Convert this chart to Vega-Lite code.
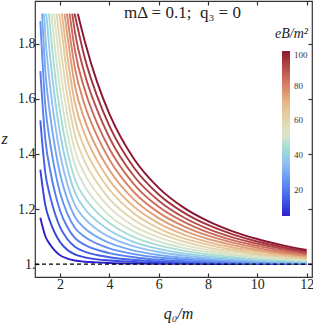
{
  "$schema": "https://vega.github.io/schema/vega-lite/v6.json",
  "width": 277,
  "height": 276,
  "autosize": "none",
  "padding": {"left": 35, "top": 1, "right": 1, "bottom": 46},
  "background": "white",
  "config": {
    "view": {"stroke": "#333", "strokeWidth": 1.2},
    "axis": {"grid": false, "domain": false, "tickColor": "#333", "tickSize": -4, "tickWidth": 1.2, "labelFont": "Liberation Serif", "labelFontSize": 14, "labelColor": "#222", "titleFont": "Liberation Serif", "titleFontSize": 16, "titleFontStyle": "italic", "titleFontWeight": "normal", "titleColor": "#222"}
  },
  "title": {"text": "mΔ = 0.1;\u2002q₃ = 0", "font": "Liberation Serif", "fontSize": 17, "fontWeight": "normal", "color": "#222", "anchor": "middle", "frame": "group", "dx": 9, "offset": -22},
  "datasets": {
    "curves": [
      {"eB":5,"q0":1.2,"z":1.168},{"eB":5,"q0":1.4,"z":1.102},{"eB":5,"q0":1.6,"z":1.07},{"eB":5,"q0":1.8,"z":1.048},{"eB":5,"q0":2.0,"z":1.032},{"eB":5,"q0":2.3,"z":1.02},{"eB":5,"q0":2.6,"z":1.013},{"eB":5,"q0":3.0,"z":1.0085},{"eB":5,"q0":3.5,"z":1.006},{"eB":5,"q0":4,"z":1.004},{"eB":5,"q0":5,"z":1.002},{"eB":5,"q0":6,"z":1.001},{"eB":5,"q0":8,"z":1.0005},{"eB":5,"q0":10,"z":1.0},{"eB":5,"q0":12,"z":1.0},
      {"eB":10,"q0":1.2,"z":1.343},{"eB":10,"q0":1.4,"z":1.215},{"eB":10,"q0":1.6,"z":1.154},{"eB":10,"q0":1.8,"z":1.111},{"eB":10,"q0":2.0,"z":1.08},{"eB":10,"q0":2.3,"z":1.051},{"eB":10,"q0":2.6,"z":1.035},{"eB":10,"q0":3.0,"z":1.0245},{"eB":10,"q0":3.5,"z":1.017},{"eB":10,"q0":4,"z":1.013},{"eB":10,"q0":5,"z":1.008},{"eB":10,"q0":6,"z":1.005},{"eB":10,"q0":7,"z":1.003},{"eB":10,"q0":8,"z":1.002},{"eB":10,"q0":10,"z":1.001},{"eB":10,"q0":12,"z":1.0005},
      {"eB":15,"q0":1.2,"z":1.522},{"eB":15,"q0":1.4,"z":1.333},{"eB":15,"q0":1.6,"z":1.245},{"eB":15,"q0":1.8,"z":1.182},{"eB":15,"q0":2.0,"z":1.134},{"eB":15,"q0":2.3,"z":1.09},{"eB":15,"q0":2.6,"z":1.063},{"eB":15,"q0":3.0,"z":1.045},{"eB":15,"q0":3.5,"z":1.033},{"eB":15,"q0":4,"z":1.025},{"eB":15,"q0":5,"z":1.015},{"eB":15,"q0":6,"z":1.01},{"eB":15,"q0":7,"z":1.007},{"eB":15,"q0":8,"z":1.005},{"eB":15,"q0":9,"z":1.003},{"eB":15,"q0":10,"z":1.002},{"eB":15,"q0":12,"z":1.001},
      {"eB":20,"q0":1.2,"z":1.701},{"eB":20,"q0":1.4,"z":1.455},{"eB":20,"q0":1.6,"z":1.34},{"eB":20,"q0":1.8,"z":1.257},{"eB":20,"q0":2.0,"z":1.194},{"eB":20,"q0":2.3,"z":1.134},{"eB":20,"q0":2.6,"z":1.095},{"eB":20,"q0":3.0,"z":1.07},{"eB":20,"q0":3.5,"z":1.052},{"eB":20,"q0":4,"z":1.04},{"eB":20,"q0":5,"z":1.025},{"eB":20,"q0":6,"z":1.016},{"eB":20,"q0":7,"z":1.011},{"eB":20,"q0":8,"z":1.008},{"eB":20,"q0":9,"z":1.006},{"eB":20,"q0":10,"z":1.004},{"eB":20,"q0":11,"z":1.003},{"eB":20,"q0":12,"z":1.002},
      {"eB":25,"q0":1.2,"z":1.883},{"eB":25,"q0":1.4,"z":1.579},{"eB":25,"q0":1.6,"z":1.439},{"eB":25,"q0":1.8,"z":1.337},{"eB":25,"q0":2.0,"z":1.259},{"eB":25,"q0":2.3,"z":1.182},{"eB":25,"q0":2.6,"z":1.132},{"eB":25,"q0":3.0,"z":1.099},{"eB":25,"q0":3.5,"z":1.074},{"eB":25,"q0":4,"z":1.057},{"eB":25,"q0":5,"z":1.036},{"eB":25,"q0":6,"z":1.024},{"eB":25,"q0":7,"z":1.017},{"eB":25,"q0":8,"z":1.012},{"eB":25,"q0":9,"z":1.009},{"eB":25,"q0":10,"z":1.006},{"eB":25,"q0":11,"z":1.004},{"eB":25,"q0":12,"z":1.003},
      {"eB":30,"q0":1.27,"z":1.91},{"eB":30,"q0":1.4,"z":1.705},{"eB":30,"q0":1.6,"z":1.54},{"eB":30,"q0":1.8,"z":1.42},{"eB":30,"q0":2.0,"z":1.328},{"eB":30,"q0":2.3,"z":1.234},{"eB":30,"q0":2.6,"z":1.172},{"eB":30,"q0":3.0,"z":1.13},{"eB":30,"q0":3.5,"z":1.099},{"eB":30,"q0":4,"z":1.077},{"eB":30,"q0":5,"z":1.049},{"eB":30,"q0":6,"z":1.033},{"eB":30,"q0":7,"z":1.023},{"eB":30,"q0":8,"z":1.017},{"eB":30,"q0":9,"z":1.012},{"eB":30,"q0":10,"z":1.009},{"eB":30,"q0":11,"z":1.006},{"eB":30,"q0":12,"z":1.005},
      {"eB":35,"q0":1.35,"z":1.91},{"eB":35,"q0":1.4,"z":1.833},{"eB":35,"q0":1.6,"z":1.644},{"eB":35,"q0":1.8,"z":1.507},{"eB":35,"q0":2.0,"z":1.4},{"eB":35,"q0":2.3,"z":1.289},{"eB":35,"q0":2.6,"z":1.215},{"eB":35,"q0":3.0,"z":1.165},{"eB":35,"q0":3.5,"z":1.126},{"eB":35,"q0":4,"z":1.099},{"eB":35,"q0":5,"z":1.064},{"eB":35,"q0":6,"z":1.044},{"eB":35,"q0":7,"z":1.031},{"eB":35,"q0":8,"z":1.022},{"eB":35,"q0":9,"z":1.016},{"eB":35,"q0":10,"z":1.012},{"eB":35,"q0":11,"z":1.009},{"eB":35,"q0":12,"z":1.006},
      {"eB":40,"q0":1.44,"z":1.91},{"eB":40,"q0":1.6,"z":1.75},{"eB":40,"q0":1.8,"z":1.595},{"eB":40,"q0":2.0,"z":1.475},{"eB":40,"q0":2.3,"z":1.348},{"eB":40,"q0":2.6,"z":1.261},{"eB":40,"q0":3.0,"z":1.201},{"eB":40,"q0":3.5,"z":1.156},{"eB":40,"q0":4,"z":1.123},{"eB":40,"q0":5,"z":1.08},{"eB":40,"q0":6,"z":1.055},{"eB":40,"q0":7,"z":1.039},{"eB":40,"q0":8,"z":1.028},{"eB":40,"q0":9,"z":1.021},{"eB":40,"q0":10,"z":1.015},{"eB":40,"q0":11,"z":1.011},{"eB":40,"q0":12,"z":1.008},
      {"eB":45,"q0":1.545,"z":1.91},{"eB":45,"q0":1.6,"z":1.858},{"eB":45,"q0":1.8,"z":1.686},{"eB":45,"q0":2.0,"z":1.553},{"eB":45,"q0":2.3,"z":1.409},{"eB":45,"q0":2.6,"z":1.309},{"eB":45,"q0":3.0,"z":1.241},{"eB":45,"q0":3.5,"z":1.188},{"eB":45,"q0":4,"z":1.149},{"eB":45,"q0":5,"z":1.098},{"eB":45,"q0":6,"z":1.068},{"eB":45,"q0":7,"z":1.049},{"eB":45,"q0":8,"z":1.035},{"eB":45,"q0":9,"z":1.026},{"eB":45,"q0":10,"z":1.019},{"eB":45,"q0":11,"z":1.014},{"eB":45,"q0":12,"z":1.01},
      {"eB":50,"q0":1.65,"z":1.91},{"eB":50,"q0":1.8,"z":1.78},{"eB":50,"q0":2.0,"z":1.634},{"eB":50,"q0":2.3,"z":1.473},{"eB":50,"q0":2.6,"z":1.361},{"eB":50,"q0":3.0,"z":1.283},{"eB":50,"q0":3.5,"z":1.222},{"eB":50,"q0":4,"z":1.176},{"eB":50,"q0":5,"z":1.118},{"eB":50,"q0":6,"z":1.082},{"eB":50,"q0":7,"z":1.059},{"eB":50,"q0":8,"z":1.043},{"eB":50,"q0":9,"z":1.032},{"eB":50,"q0":10,"z":1.024},{"eB":50,"q0":11,"z":1.018},{"eB":50,"q0":12,"z":1.013},
      {"eB":55,"q0":1.755,"z":1.91},{"eB":55,"q0":1.8,"z":1.875},{"eB":55,"q0":2.0,"z":1.716},{"eB":55,"q0":2.3,"z":1.54},{"eB":55,"q0":2.6,"z":1.414},{"eB":55,"q0":3.0,"z":1.327},{"eB":55,"q0":3.5,"z":1.258},{"eB":55,"q0":4,"z":1.206},{"eB":55,"q0":5,"z":1.138},{"eB":55,"q0":6,"z":1.097},{"eB":55,"q0":7,"z":1.07},{"eB":55,"q0":8,"z":1.051},{"eB":55,"q0":9,"z":1.038},{"eB":55,"q0":10,"z":1.029},{"eB":55,"q0":11,"z":1.021},{"eB":55,"q0":12,"z":1.015},
      {"eB":60,"q0":1.86,"z":1.91},{"eB":60,"q0":2.0,"z":1.802},{"eB":60,"q0":2.3,"z":1.609},{"eB":60,"q0":2.6,"z":1.47},{"eB":60,"q0":3.0,"z":1.373},{"eB":60,"q0":3.5,"z":1.296},{"eB":60,"q0":4,"z":1.237},{"eB":60,"q0":5,"z":1.16},{"eB":60,"q0":6,"z":1.113},{"eB":60,"q0":7,"z":1.082},{"eB":60,"q0":8,"z":1.06},{"eB":60,"q0":9,"z":1.045},{"eB":60,"q0":10,"z":1.034},{"eB":60,"q0":11,"z":1.025},{"eB":60,"q0":12,"z":1.018},
      {"eB":65,"q0":1.965,"z":1.91},{"eB":65,"q0":2.0,"z":1.889},{"eB":65,"q0":2.3,"z":1.68},{"eB":65,"q0":2.6,"z":1.527},{"eB":65,"q0":3.0,"z":1.421},{"eB":65,"q0":3.5,"z":1.335},{"eB":65,"q0":4,"z":1.271},{"eB":65,"q0":5,"z":1.184},{"eB":65,"q0":6,"z":1.13},{"eB":65,"q0":7,"z":1.094},{"eB":65,"q0":8,"z":1.07},{"eB":65,"q0":9,"z":1.052},{"eB":65,"q0":10,"z":1.039},{"eB":65,"q0":11,"z":1.03},{"eB":65,"q0":12,"z":1.022},
      {"eB":70,"q0":2.075,"z":1.91},{"eB":70,"q0":2.3,"z":1.753},{"eB":70,"q0":2.6,"z":1.587},{"eB":70,"q0":3.0,"z":1.472},{"eB":70,"q0":3.5,"z":1.377},{"eB":70,"q0":4,"z":1.305},{"eB":70,"q0":5,"z":1.208},{"eB":70,"q0":6,"z":1.148},{"eB":70,"q0":7,"z":1.108},{"eB":70,"q0":8,"z":1.08},{"eB":70,"q0":9,"z":1.06},{"eB":70,"q0":10,"z":1.046},{"eB":70,"q0":11,"z":1.034},{"eB":70,"q0":12,"z":1.025},
      {"eB":75,"q0":2.18,"z":1.91},{"eB":75,"q0":2.3,"z":1.828},{"eB":75,"q0":2.6,"z":1.649},{"eB":75,"q0":3.0,"z":1.524},{"eB":75,"q0":3.5,"z":1.42},{"eB":75,"q0":4,"z":1.342},{"eB":75,"q0":5,"z":1.234},{"eB":75,"q0":6,"z":1.167},{"eB":75,"q0":7,"z":1.122},{"eB":75,"q0":8,"z":1.091},{"eB":75,"q0":9,"z":1.069},{"eB":75,"q0":10,"z":1.052},{"eB":75,"q0":11,"z":1.039},{"eB":75,"q0":12,"z":1.029},
      {"eB":80,"q0":2.28,"z":1.91},{"eB":80,"q0":2.6,"z":1.713},{"eB":80,"q0":3.0,"z":1.578},{"eB":80,"q0":3.5,"z":1.466},{"eB":80,"q0":4,"z":1.38},{"eB":80,"q0":5,"z":1.261},{"eB":80,"q0":6,"z":1.187},{"eB":80,"q0":7,"z":1.138},{"eB":80,"q0":8,"z":1.103},{"eB":80,"q0":9,"z":1.078},{"eB":80,"q0":10,"z":1.059},{"eB":80,"q0":11,"z":1.044},{"eB":80,"q0":12,"z":1.033},
      {"eB":85,"q0":2.39,"z":1.91},{"eB":85,"q0":2.6,"z":1.778},{"eB":85,"q0":3.0,"z":1.634},{"eB":85,"q0":3.5,"z":1.512},{"eB":85,"q0":4,"z":1.419},{"eB":85,"q0":5,"z":1.29},{"eB":85,"q0":6,"z":1.208},{"eB":85,"q0":7,"z":1.154},{"eB":85,"q0":8,"z":1.115},{"eB":85,"q0":9,"z":1.087},{"eB":85,"q0":10,"z":1.066},{"eB":85,"q0":11,"z":1.05},{"eB":85,"q0":12,"z":1.037},
      {"eB":90,"q0":2.495,"z":1.91},{"eB":90,"q0":2.6,"z":1.845},{"eB":90,"q0":3.0,"z":1.691},{"eB":90,"q0":3.5,"z":1.561},{"eB":90,"q0":4,"z":1.46},{"eB":90,"q0":5,"z":1.319},{"eB":90,"q0":6,"z":1.23},{"eB":90,"q0":7,"z":1.17},{"eB":90,"q0":8,"z":1.128},{"eB":90,"q0":9,"z":1.097},{"eB":90,"q0":10,"z":1.074},{"eB":90,"q0":11,"z":1.056},{"eB":90,"q0":12,"z":1.041},
      {"eB":95,"q0":2.59,"z":1.91},{"eB":95,"q0":3.0,"z":1.75},{"eB":95,"q0":3.5,"z":1.611},{"eB":95,"q0":4,"z":1.502},{"eB":95,"q0":5,"z":1.35},{"eB":95,"q0":6,"z":1.253},{"eB":95,"q0":7,"z":1.188},{"eB":95,"q0":8,"z":1.142},{"eB":95,"q0":9,"z":1.108},{"eB":95,"q0":10,"z":1.082},{"eB":95,"q0":11,"z":1.062},{"eB":95,"q0":12,"z":1.046},
      {"eB":100,"q0":2.72,"z":1.91},{"eB":100,"q0":3.0,"z":1.811},{"eB":100,"q0":3.5,"z":1.662},{"eB":100,"q0":4,"z":1.546},{"eB":100,"q0":5,"z":1.382},{"eB":100,"q0":6,"z":1.277},{"eB":100,"q0":7,"z":1.206},{"eB":100,"q0":8,"z":1.156},{"eB":100,"q0":9,"z":1.119},{"eB":100,"q0":10,"z":1.091},{"eB":100,"q0":11,"z":1.069},{"eB":100,"q0":12,"z":1.051}
    ],
    "ref": [{"q0": 2, "z": 1}]
  },
  "layer": [
    {
      "data": {"name": "curves"},
      "mark": {"type": "line", "strokeWidth": 1.9, "interpolate": "monotone", "clip": true},
      "encoding": {
        "x": {"field": "q0", "type": "quantitative", "scale": {"domain": [0.984, 12.216], "nice": false, "zero": false}, "axis": {"orient": "bottom", "values": [2, 4, 6, 8, 10, 12], "labelPadding": 4, "labelFont": "Liberation Serif", "title": "q₀/m", "titleX": 143, "titleY": 36, "titleBaseline": "middle"}},
        "y": {"field": "z", "type": "quantitative", "scale": {"domain": [0.953, 1.956], "nice": false, "zero": false}, "axis": {"orient": "left", "values": [1, 1.2, 1.4, 1.6, 1.8], "labelPadding": 4, "labelFont": "Liberation Serif", "labelExpr": "datum.value == 1 ? '1.' : format(datum.value, '.1f')", "title": "z", "titleAngle": 0, "titleX": -31, "titleY": 137, "titleAlign": "center", "titleBaseline": "middle"}},
        "color": {"field": "eB", "type": "quantitative", "scale": {"domain": [5, 100], "range": ["#2d1fcf", "#5a7ef0", "#9cc5f0", "#e2e6cf", "#e9bf90", "#cf6c5e", "#8b1530"]},
          "legend": {"orient": "none", "legendX": 240, "legendY": 26, "direction": "vertical", "gradientLength": 165, "gradientThickness": 8, "gradientStrokeWidth": 0, "title": "eB/m²", "titleFont": "Liberation Serif", "titleFontStyle": "italic", "titleFontWeight": "normal", "titleFontSize": 14, "titleColor": "#222", "titlePadding": 10, "titleAnchor": "end", "labelFont": "Liberation Serif", "labelFontSize": 9, "labelColor": "#333", "values": [20, 40, 60, 80, 100], "labelOffset": 4}},
        "detail": {"field": "eB"}
      }
    },
    {
      "data": {"name": "ref"},
      "mark": {"type": "rule", "color": "black", "strokeWidth": 1.3, "strokeDash": [4, 3]},
      "encoding": {"y": {"field": "z", "type": "quantitative", "axis": null}}
    },
    {
      "data": {"name": "ref"},
      "mark": {"type": "point", "opacity": 0},
      "encoding": {
        "x": {"field": "q0", "type": "quantitative", "axis": {"orient": "top", "values": [2, 4, 6, 8, 10, 12], "labels": false, "title": null}},
        "y": {"field": "z", "type": "quantitative", "axis": {"orient": "right", "values": [1, 1.2, 1.4, 1.6, 1.8], "labels": false, "title": null}}
      }
    }
  ],
  "resolve": {"axis": {"x": "independent", "y": "independent"}}
}
